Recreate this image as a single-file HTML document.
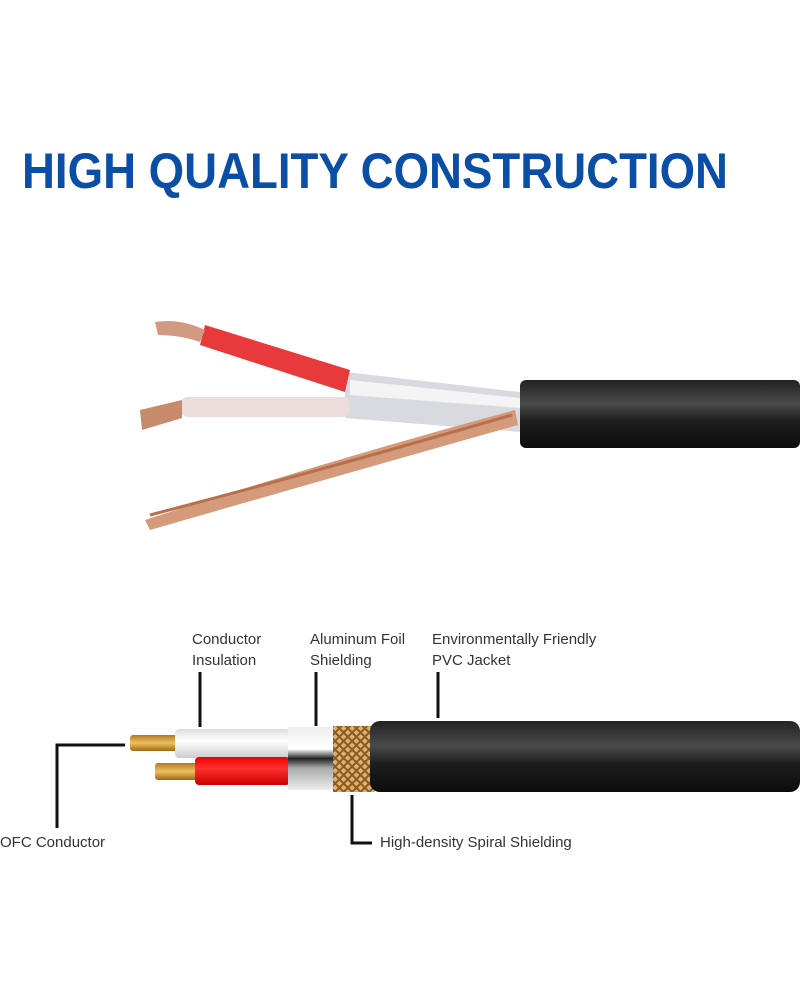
<!DOCTYPE html>
<html><head><style>
html,body{margin:0;padding:0;background:#fff;}
svg{display:block;}
text{font-family:"Liberation Sans",sans-serif;}
</style></head><body>
<svg width="800" height="1000" viewBox="0 0 800 1000" xmlns="http://www.w3.org/2000/svg">
<defs>
<linearGradient id="blk" x1="0" y1="0" x2="0" y2="1">
<stop offset="0" stop-color="#222"/><stop offset="0.35" stop-color="#4a4a4a"/><stop offset="0.6" stop-color="#1e1e1e"/><stop offset="1" stop-color="#0c0c0c"/></linearGradient>
<linearGradient id="foil" x1="0" y1="0" x2="0" y2="1">
<stop offset="0" stop-color="#eee"/><stop offset="0.35" stop-color="#fff"/><stop offset="0.5" stop-color="#222"/><stop offset="0.65" stop-color="#aaa"/><stop offset="1" stop-color="#eee"/></linearGradient>
<linearGradient id="wht" x1="0" y1="0" x2="0" y2="1">
<stop offset="0" stop-color="#ddd"/><stop offset="0.4" stop-color="#fff"/><stop offset="1" stop-color="#ccc"/></linearGradient>
<linearGradient id="red" x1="0" y1="0" x2="0" y2="1">
<stop offset="0" stop-color="#e00"/><stop offset="0.4" stop-color="#ff3030"/><stop offset="1" stop-color="#c00"/></linearGradient>
<linearGradient id="cu" x1="0" y1="0" x2="0" y2="1">
<stop offset="0" stop-color="#b07a20"/><stop offset="0.5" stop-color="#f0c060"/><stop offset="1" stop-color="#a06a10"/></linearGradient>
<pattern id="mesh" width="6" height="6" patternUnits="userSpaceOnUse" patternTransform="rotate(45)">
<rect width="6" height="6" fill="#8a5a20"/><rect width="4" height="4" fill="#e0b070"/></pattern>
</defs>
<text x="22" y="188" font-size="50" font-weight="bold" fill="#0b4ea6" textLength="706" lengthAdjust="spacingAndGlyphs">HIGH QUALITY CONSTRUCTION</text>

<!-- top photo cable -->
<rect x="520" y="380" width="280" height="68" rx="6" fill="url(#blk)"/>
<polygon points="345,372 520,392 520,432 345,418" fill="#d8dadf"/>
<polygon points="350,380 520,398 520,408 350,395" fill="#f4f4f4"/>
<polygon points="205,325 350,370 345,392 200,345" fill="#e83a3a"/>
<path d="M155,322 Q180,318 205,330 L200,342 Q180,335 158,335Z" fill="#d29a80"/>
<rect x="180" y="397" width="170" height="20" rx="8" fill="#ecdcdc"/>
<path d="M140,410 L182,400 L182,418 L142,430Z" fill="#c78a6a"/>
<path d="M145,520 Q330,460 515,410 L518,425 Q330,478 150,530Z" fill="#d49a7a"/>
<path d="M150,515 Q330,468 512,415" stroke="#b8704c" stroke-width="3" fill="none"/>

<!-- bottom diagram -->
<rect x="130" y="735" width="48" height="16" rx="3" fill="url(#cu)"/>
<rect x="155" y="763" width="45" height="17" rx="3" fill="url(#cu)"/>
<rect x="175" y="729" width="115" height="29" rx="4" fill="url(#wht)"/>
<rect x="195" y="757" width="95" height="28" rx="4" fill="url(#red)"/>
<rect x="288" y="727" width="48" height="63" fill="url(#foil)"/>
<rect x="333" y="726" width="42" height="66" fill="url(#mesh)"/>
<rect x="370" y="721" width="430" height="71" rx="10" fill="url(#blk)"/>

<g stroke="#111" stroke-width="3" fill="none">
<path d="M200,672 V727"/>
<path d="M316,672 V726"/>
<path d="M438,672 V718"/>
<path d="M125,745 H57 V828"/>
<path d="M352,795 V843 H372"/>
</g>
<g font-size="15" fill="#333">
<text x="192" y="644">Conductor</text>
<text x="192" y="665">Insulation</text>
<text x="310" y="644">Aluminum Foil</text>
<text x="310" y="665">Shielding</text>
<text x="432" y="644">Environmentally Friendly</text>
<text x="432" y="665">PVC Jacket</text>
<text x="0" y="847">OFC Conductor</text>
<text x="380" y="847">High-density Spiral Shielding</text>
</g>
</svg>
</body></html>
